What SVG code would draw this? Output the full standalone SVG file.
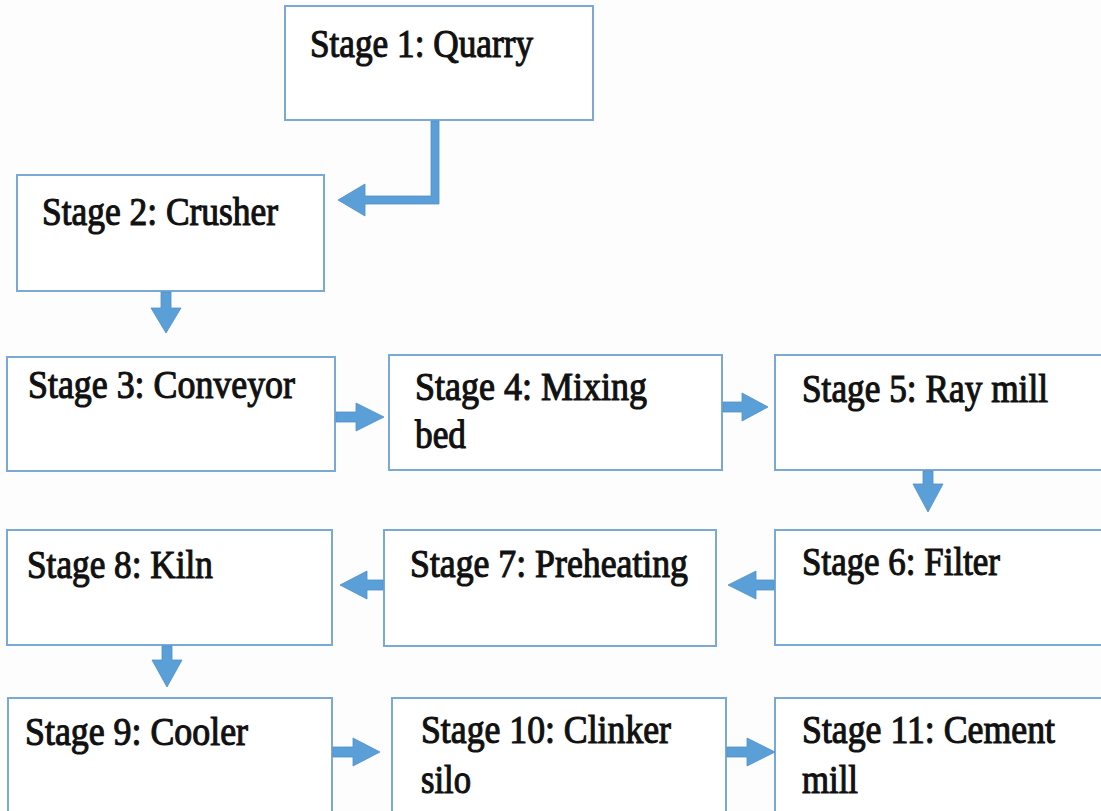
<svg xmlns="http://www.w3.org/2000/svg" width="1101" height="811" viewBox="0 0 1101 811">
  <style>
    .box { fill: #ffffff; stroke: #7ba9d6; stroke-width: 2; }
    .lbl { font-family: "Liberation Serif", "Times New Roman", serif; font-size: 39px; fill: #111; stroke: #111; stroke-width: 1.1; }
    .arw { fill: #5b9fd9; stroke: #4f8fc8; stroke-width: 0.8; stroke-linejoin: miter; }
  </style>
  <rect width="1101" height="811" fill="#fdfdfd"/>

  <!-- process stages -->
  <g id="stage1">
    <rect class="box" x="285" y="6" width="308" height="114"/>
    <text class="lbl" x="310" y="57" textLength="223" lengthAdjust="spacingAndGlyphs">Stage 1: Quarry</text>
  </g>
  <g id="stage2">
    <rect class="box" x="17" y="175" width="307" height="116"/>
    <text class="lbl" x="42" y="225" textLength="236" lengthAdjust="spacingAndGlyphs">Stage 2: Crusher</text>
  </g>
  <g id="stage3">
    <rect class="box" x="7" y="357" width="328" height="114"/>
    <text class="lbl" x="28" y="398" textLength="267" lengthAdjust="spacingAndGlyphs">Stage 3: Conveyor</text>
  </g>
  <g id="stage4">
    <rect class="box" x="389" y="355" width="333" height="115"/>
    <text class="lbl" x="415" y="400" textLength="232" lengthAdjust="spacingAndGlyphs">Stage 4: Mixing</text>
    <text class="lbl" x="415" y="448" textLength="51" lengthAdjust="spacingAndGlyphs">bed</text>
  </g>
  <g id="stage5">
    <rect class="box" x="775" y="355" width="340" height="115"/>
    <text class="lbl" x="802" y="402" textLength="246" lengthAdjust="spacingAndGlyphs">Stage 5: Ray mill</text>
  </g>
  <g id="stage6">
    <rect class="box" x="775" y="530" width="340" height="115"/>
    <text class="lbl" x="802" y="575" textLength="198" lengthAdjust="spacingAndGlyphs">Stage 6: Filter</text>
  </g>
  <g id="stage7">
    <rect class="box" x="384" y="530" width="332" height="116"/>
    <text class="lbl" x="410" y="577" textLength="278" lengthAdjust="spacingAndGlyphs">Stage 7: Preheating</text>
  </g>
  <g id="stage8">
    <rect class="box" x="7" y="530" width="325" height="115"/>
    <text class="lbl" x="27" y="578" textLength="186" lengthAdjust="spacingAndGlyphs">Stage 8: Kiln</text>
  </g>
  <g id="stage9">
    <rect class="box" x="8" y="698" width="324" height="130"/>
    <text class="lbl" x="25" y="745" textLength="223" lengthAdjust="spacingAndGlyphs">Stage 9: Cooler</text>
  </g>
  <g id="stage10">
    <rect class="box" x="392" y="698" width="334" height="130"/>
    <text class="lbl" x="421" y="743" textLength="250" lengthAdjust="spacingAndGlyphs">Stage 10: Clinker</text>
    <text class="lbl" x="421" y="793" textLength="50" lengthAdjust="spacingAndGlyphs">silo</text>
  </g>
  <g id="stage11">
    <rect class="box" x="775" y="698" width="340" height="130"/>
    <text class="lbl" x="802" y="743" textLength="253" lengthAdjust="spacingAndGlyphs">Stage 11: Cement</text>
    <text class="lbl" x="802" y="793" textLength="56" lengthAdjust="spacingAndGlyphs">mill</text>
  </g>

  <!-- block arrows between stages -->
  <g id="connectors">
    <!-- 1 -> 2 elbow -->
    <polygon class="arw" points="431,121 439,121 439,204 365,204 365,216 338,200 365,184 365,196 431,196"/>
    <!-- 2 -> 3 -->
    <polygon class="arw" points="161,292 171,292 171,308 181,308 166,333 151,308 161,308"/>
    <!-- 3 -> 4 -->
    <polygon class="arw" points="336,412 356,412 356,403 384,417 356,431 356,422 336,422"/>
    <!-- 4 -> 5 -->
    <polygon class="arw" points="723,402 742,402 742,393 768,407 742,421 742,412 723,412"/>
    <!-- 5 -> 6 -->
    <polygon class="arw" points="923,471 933,471 933,484 943,484 928,512 913,484 923,484"/>
    <!-- 6 -> 7 -->
    <polygon class="arw" points="774,580 756,580 756,571 728,585 756,599 756,590 774,590"/>
    <!-- 7 -> 8 -->
    <polygon class="arw" points="383,580 367,580 367,571 340,585 367,599 367,590 383,590"/>
    <!-- 8 -> 9 -->
    <polygon class="arw" points="162,646 172,646 172,660 182,660 167,687 152,660 162,660"/>
    <!-- 9 -> 10 -->
    <polygon class="arw" points="333,747 353,747 353,738 380,752 353,766 353,757 333,757"/>
    <!-- 10 -> 11 -->
    <polygon class="arw" points="727,747 747,747 747,738 775,752 747,766 747,757 727,757"/>
  </g>
</svg>
